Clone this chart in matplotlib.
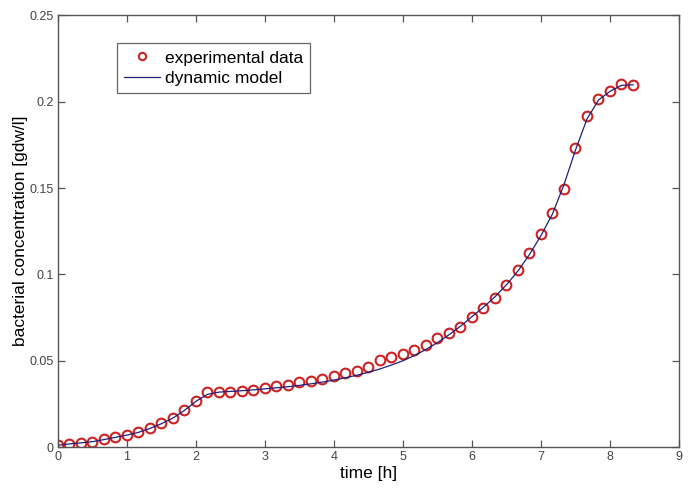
import numpy as np
import matplotlib
matplotlib.use("Agg")
import matplotlib.pyplot as plt

plt.rcParams['font.family'] = ['Liberation Sans', 'DejaVu Sans']

# sampling times [h], one sample every 10 min
time_h = np.arange(51) / 6.0

# measured biomass [gdw/l]
exp_data = [0.0010, 0.0020, 0.0025, 0.0030, 0.0045, 0.0060, 0.0070, 0.0085, 0.0110, 0.0137,
            0.0170, 0.0215, 0.0269, 0.0320, 0.0317, 0.0317, 0.0323, 0.0330, 0.0344, 0.0356,
            0.0360, 0.0377, 0.0383, 0.0396, 0.0412, 0.0430, 0.0440, 0.0466, 0.0505, 0.0524,
            0.0540, 0.0563, 0.0592, 0.0630, 0.0660, 0.0698, 0.0752, 0.0804, 0.0862, 0.0936,
            0.1023, 0.1123, 0.1235, 0.1355, 0.1494, 0.1733, 0.1916, 0.2013, 0.2061, 0.2100,
            0.2095]

# model curve read at the same times
model = [0.0010, 0.0018, 0.0024, 0.0031, 0.0043, 0.0056, 0.0069, 0.0085, 0.0108, 0.0135,
         0.0168, 0.0212, 0.0265, 0.0305, 0.0318, 0.0322, 0.0326, 0.0331, 0.0337, 0.0343,
         0.0349, 0.0357, 0.0366, 0.0376, 0.0388, 0.0401, 0.0416, 0.0433, 0.0452, 0.0475,
         0.0500, 0.0530, 0.0565, 0.0605, 0.0650, 0.0700, 0.0755, 0.0810, 0.0870, 0.0940,
         0.1020, 0.1115, 0.1225, 0.1350, 0.1520, 0.1720, 0.1900, 0.2010, 0.2060, 0.2095,
         0.2098]

fig = plt.figure(figsize=(6.92, 4.91), dpi=100)
ax = fig.add_axes([0.0838, 0.0896, 0.8974, 0.879])

ax.plot(time_h, exp_data, 'o', mfc='none', mec='#cc2222', mew=1.5, ms=7,
        label='experimental data')
ax.plot(time_h, model, '-', color='#20207a', lw=0.9, label='dynamic model')

ax.set_xlim(0, 9)
ax.set_ylim(0, 0.25)
ax.set_xticks(range(10))
ax.set_yticks([0, 0.05, 0.1, 0.15, 0.2, 0.25])
ax.set_yticklabels(['0', '0.05', '0.1', '0.15', '0.2', '0.25'])

for s in ax.spines.values():
    s.set_color('#555555')
    s.set_linewidth(1.0)
ax.tick_params(direction='in', top=True, right=True, length=5, width=0.9,
               color='#555555', labelcolor='#444444', labelsize=9, pad=3)

ax.set_xlabel('time [h]', fontsize=12.5, labelpad=2)
ax.set_ylabel('bacterial concentration [gdw/l]', fontsize=12.5, labelpad=1)

leg = ax.legend(loc='upper left', bbox_to_anchor=(0.095, 0.935), fontsize=12.5,
                fancybox=False, framealpha=1, edgecolor='#666666', markerscale=0.75,
                handlelength=2.1, borderpad=0.4, labelspacing=0.3, handletextpad=0.25,
                borderaxespad=0)
leg.get_frame().set_linewidth(0.9)

fig.savefig('out.png', dpi=100)
